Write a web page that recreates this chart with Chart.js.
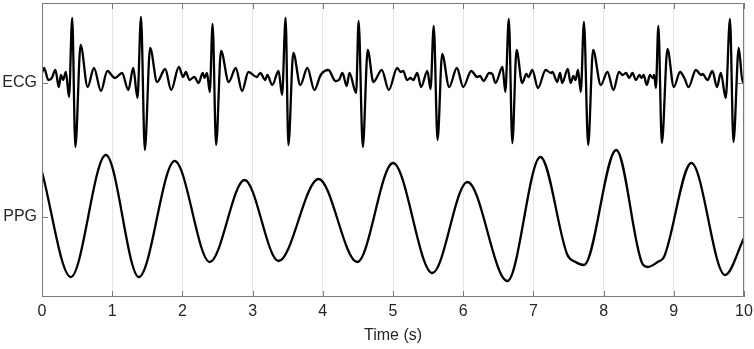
<!DOCTYPE html>
<html>
<head>
<meta charset="utf-8">
<script src="https://cdn.jsdelivr.net/npm/chart.js@4/dist/chart.umd.min.js"></script>
<style>
  html, body { margin: 0; padding: 0; background: #fff; }
</style>
</head>
<body>
<canvas id="chart" width="754" height="349"></canvas>
<script>
// ECG trace: turning points (time in s, amplitude in a.u.)
const ecgTime = [
  0.00, 0.03, 0.09, 0.14, 0.19, 0.24, 0.27, 0.30, 0.34, 0.385, 0.43, 0.475, 0.55, 0.65, 0.74, 0.84, 0.93,
  1.04, 1.14, 1.23, 1.30, 1.36, 1.41, 1.465, 1.54, 1.64, 1.755, 1.84, 1.95,
  2.01, 2.05, 2.10, 2.17, 2.23, 2.29, 2.315, 2.35, 2.39, 2.43, 2.48, 2.55, 2.66, 2.76, 2.85, 2.94,
  3.06, 3.11, 3.18, 3.21, 3.28, 3.37, 3.42, 3.47, 3.51, 3.58, 3.68, 3.78, 3.88, 3.97,
  4.08, 4.18, 4.23, 4.28, 4.34, 4.38, 4.475, 4.51, 4.57, 4.64, 4.72, 4.84, 4.94,
  5.06, 5.11, 5.145, 5.20, 5.25, 5.29, 5.345, 5.40, 5.49, 5.535, 5.58, 5.635, 5.70, 5.80, 5.91,
  6.00, 6.115, 6.20, 6.24, 6.29, 6.37, 6.415, 6.46, 6.56, 6.60, 6.65, 6.70, 6.76, 6.84, 6.90, 6.93, 6.985,
  7.065, 7.175, 7.25, 7.27, 7.34, 7.38, 7.41, 7.49, 7.53, 7.57, 7.60, 7.635, 7.675, 7.72, 7.78, 7.85, 7.96,
  8.055, 8.14, 8.22, 8.27, 8.32, 8.365, 8.41, 8.46, 8.51, 8.54, 8.57, 8.615, 8.66, 8.70, 8.72, 8.745, 8.78, 8.83, 8.91,
  9.00, 9.09, 9.15, 9.21, 9.315, 9.39, 9.41, 9.48, 9.55, 9.615, 9.67, 9.74, 9.80, 9.85, 9.925, 9.98, 10.00
];
const ecgAmp = [
  10, 15, 3, 5, 13, -4, 8, 3, 11, -14, 65, -64, 38, -4, 15, -8, 12,
  5, 10, -7, 15, -15, 66, -67, 35, 1, 14, -7, 16,
  6, 11, 3, 6, 0, 10, 5, 10, -9, 59, -62, 32, 1, 15, -8, 11,
  6, 10, 3, 8, -2, 12, -12, 65, -62, 30, -2, 15, -7, 8,
  13, 2, 3, 10, -3, 10, -10, 62, -64, 33, 1, 13, -7,
  15, 11, 12, 3, 5, 3, 10, -4, 12, -6, 57, -57, 29, -4, 15,
  -4, 12, 6, 7, 2, 10, 9, 0, 16, -9, 64, -60, 33, 0, 9, 6, 13,
  -5, 13, 10, 11, 1, 10, 0, 14, 0, 7, 3, 13, -9, 61, -62, 33, -2,
  11, -7, 11, 8, 10, 5, 10, 3, 8, 5, 8, -2, 8, 5, 8, -5, 57, -60, 34,
  -4, 11, 5, -4, 13, 8, 9, 3, 12, -4, 10, -15, 64, -59, 35, 1, 1
];

// PPG trace: peaks, troughs and shoulders
const ppgTime = [
  0.00, 0.41, 0.91, 1.38, 1.89, 2.39, 2.885, 3.37, 3.94, 4.49, 5.00, 5.56, 6.06, 6.63,
  7.10, 7.485, 7.60, 7.72, 8.18, 8.555, 8.63, 8.77, 8.86, 9.25, 9.73, 10.00
];
const ppgAmp = [
  45, -60, 62, -60, 56, -45, 37, -44, 38, -45, 54, -56, 35, -64,
  60, -38, -45, -48, 67, -47, -50, -45, -40, 54, -58, -21
];

const traceNames = ['PPG', 'ECG'];
const traceBase = [80, 214];
const xTicks = [0, 1, 2, 3, 4, 5, 6, 7, 8, 9, 10];

const textColor = '#262626';
const axisColor = '#7a7a7a';
const font = { family: "'Liberation Sans', Arial, sans-serif", size: 16 };

function toPoints(times, amps, base) {
  return times.map((t, i) => ({ x: t, y: base + amps[i] }));
}

// box around the plot plus the short inward tick marks (MATLAB style)
const boxPlugin = {
  id: 'box',
  afterDatasetsDraw(chart) {
    const { ctx, chartArea: a, scales: { x, y } } = chart;
    const len = 6;
    ctx.save();
    ctx.strokeStyle = axisColor;
    ctx.lineWidth = 1;
    ctx.beginPath();
    ctx.rect(Math.round(a.left) + 0.5, Math.round(a.top) + 0.5,
      Math.round(a.right - a.left) - 1, Math.round(a.bottom - a.top) - 1);
    xTicks.forEach((v) => {
      const px = Math.round(x.getPixelForValue(v)) + 0.5;
      ctx.moveTo(px, a.bottom);
      ctx.lineTo(px, a.bottom - len);
      ctx.moveTo(px, a.top);
      ctx.lineTo(px, a.top + len);
    });
    traceBase.forEach((v) => {
      const py = Math.round(y.getPixelForValue(v)) + 0.5;
      ctx.moveTo(a.left, py);
      ctx.lineTo(a.left + len, py);
      ctx.moveTo(a.right, py);
      ctx.lineTo(a.right - len, py);
    });
    ctx.stroke();
    ctx.restore();
  }
};

const lineStyle = {
  borderColor: '#000',
  borderWidth: 2.3,
  pointRadius: 0,
  tension: 0.4,
  cubicInterpolationMode: 'monotone',
  borderJoinStyle: 'round',
  fill: false
};

new Chart(document.getElementById('chart'), {
  type: 'line',
  data: {
    datasets: [
      { label: 'ECG', data: toPoints(ecgTime, ecgAmp, traceBase[1]), ...lineStyle },
      { label: 'PPG', data: toPoints(ppgTime, ppgAmp, traceBase[0]), ...lineStyle }
    ]
  },
  options: {
    responsive: false,
    devicePixelRatio: 1,
    animation: false,
    layout: { padding: { left: 0, right: 10, top: 3, bottom: 0 } },
    plugins: { legend: { display: false }, tooltip: { enabled: false } },
    scales: {
      x: {
        type: 'linear',
        min: 0,
        max: 10,
        afterBuildTicks: (s) => { s.ticks = xTicks.map((v) => ({ value: v })); },
        afterFit: (s) => { s.height = 52; s.paddingLeft = 0; s.paddingRight = 0; },
        ticks: { color: textColor, font, padding: 5, maxRotation: 0, autoSkip: false },
        grid: { color: '#e6e6e6', drawTicks: false },
        border: { display: false },
        title: {
          display: true,
          text: 'Time (s)',
          color: textColor,
          font,
          padding: { top: 0, bottom: 4 }
        }
      },
      y: {
        type: 'linear',
        min: 0,
        max: 294,
        afterBuildTicks: (s) => { s.ticks = traceBase.map((v) => ({ value: v })); },
        afterFit: (s) => { s.width = 42; s.paddingTop = 0; s.paddingBottom = 0; },
        ticks: {
          color: textColor,
          font,
          padding: 5,
          callback: (v) => traceNames[traceBase.indexOf(v)]
        },
        grid: { display: false, drawTicks: false },
        border: { display: false }
      }
    }
  },
  plugins: [boxPlugin]
});
</script>
</body>
</html>
